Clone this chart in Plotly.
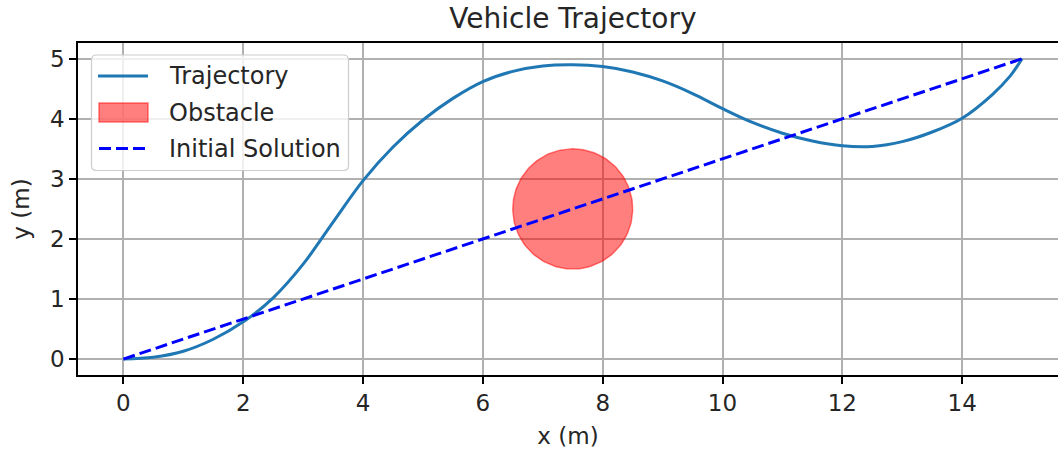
import numpy as np
import plotly.graph_objects as go

# Trajectory
traj_x = [0, 0.5, 1, 1.5, 2, 2.5, 3, 3.5, 4, 4.5, 5, 5.5, 6, 6.5, 7, 7.5,
          8, 8.5, 9, 9.5, 10, 10.5, 11, 11.5, 12, 12.5, 13, 13.5, 14, 14.5, 14.8, 15]
traj_y = [0, 0.03, 0.13, 0.33, 0.62, 1.02, 1.58, 2.28, 2.97, 3.53, 3.98, 4.34,
          4.62, 4.79, 4.88, 4.9, 4.87, 4.78, 4.63, 4.42, 4.17, 3.94, 3.76, 3.63,
          3.55, 3.54, 3.62, 3.78, 4.01, 4.40, 4.71, 5.0]

# Initial solution: straight line start -> goal
init_x = [0, 15]
init_y = [0, 5]

# Obstacle
obs_center = (7.5, 2.5)
obs_radius = 1.0

x_ticks = [0, 2, 4, 6, 8, 10, 12, 14]
y_ticks = [0, 1, 2, 3, 4, 5]

legend_labels = ["Trajectory", "Obstacle", "Initial Solution"]

FONT = "DejaVu Sans"
TXT = "#262626"
TRAJ_COLOR = "#1f77b4"
INIT_COLOR = "#0000ff"
OBS_FILL = "rgba(255,0,0,0.5)"
DASH = "12px,5px"

W, H = 1058, 454
ML, MR, MT, MB = 78, 0, 43, 79
PW, PH = W - ML - MR, H - MT - MB


def px(xp):
    return (xp - ML) / PW


def py(yp):
    return (H - MB - yp) / PH


theta = np.linspace(0, 2 * np.pi, 181)
circ_x = obs_center[0] + obs_radius * np.cos(theta)
circ_y = obs_center[1] + obs_radius * np.sin(theta)

fig = go.Figure()
fig.add_trace(go.Scatter(
    x=circ_x, y=circ_y, mode="lines", fill="toself",
    fillcolor=OBS_FILL, line=dict(color=OBS_FILL, width=1.5),
    name=legend_labels[1], showlegend=False, hoverinfo="skip"))
fig.add_trace(go.Scatter(
    x=traj_x, y=traj_y, mode="lines",
    line=dict(color=TRAJ_COLOR, width=3, shape="spline", smoothing=1.0),
    name=legend_labels[0], showlegend=False))
fig.add_trace(go.Scatter(
    x=init_x, y=init_y, mode="lines", line=dict(color=INIT_COLOR, width=3, dash=DASH),
    name=legend_labels[2], showlegend=False))

# ---- legend box (matplotlib style) ----
bx0, bx1, by0, by1, r = 91.5, 348.5, 55, 170.5, 5
path = (f"M {px(bx0 + r)},{py(by0)} L {px(bx1 - r)},{py(by0)} "
        f"Q {px(bx1)},{py(by0)} {px(bx1)},{py(by0 + r)} "
        f"L {px(bx1)},{py(by1 - r)} Q {px(bx1)},{py(by1)} {px(bx1 - r)},{py(by1)} "
        f"L {px(bx0 + r)},{py(by1)} Q {px(bx0)},{py(by1)} {px(bx0)},{py(by1 - r)} "
        f"L {px(bx0)},{py(by0 + r)} Q {px(bx0)},{py(by0)} {px(bx0 + r)},{py(by0)} Z")
shapes = [dict(type="path", xref="paper", yref="paper", path=path,
               fillcolor="rgba(255,255,255,0.8)", line=dict(color="#cccccc", width=1.2),
               layer="above")]
rows = [76, 112.5, 148.5]
hx0, hx1 = 98, 148
shapes.append(dict(type="line", xref="paper", yref="paper",
                   x0=px(hx0), x1=px(hx1), y0=py(rows[0]), y1=py(rows[0]),
                   line=dict(color=TRAJ_COLOR, width=3), layer="above"))
shapes.append(dict(type="rect", xref="paper", yref="paper",
                   x0=px(hx0 + 1), x1=px(hx1), y0=py(rows[1] - 9.5), y1=py(rows[1] + 9.5),
                   fillcolor=OBS_FILL, line=dict(color=OBS_FILL, width=1.5), layer="above"))
shapes.append(dict(type="line", xref="paper", yref="paper",
                   x0=px(hx0 + 1), x1=px(hx1), y0=py(rows[2]), y1=py(rows[2]),
                   line=dict(color=INIT_COLOR, width=3, dash=DASH), layer="above"))
annotations = [dict(xref="paper", yref="paper", x=px(167), y=py(yr), text=lab,
                    showarrow=False, xanchor="left", yanchor="middle",
                    font=dict(family=FONT, size=24, color=TXT))
               for lab, yr in zip(legend_labels, rows)]

fig.update_layout(
    width=W, height=H,
    margin=dict(l=ML, r=MR, t=MT, b=MB),
    paper_bgcolor="white", plot_bgcolor="white",
    font=dict(family=FONT, size=23, color=TXT),
    title=dict(text="Vehicle Trajectory", font=dict(family=FONT, size=28, color=TXT),
               xref="paper", x=0.505, xanchor="center",
               yref="container", y=1 - 18 / H, yanchor="middle"),
    showlegend=False,
    shapes=shapes,
    annotations=annotations,
)
fig.update_xaxes(
    range=[-0.758, 15.6], tickvals=x_ticks, ticktext=[str(v) for v in x_ticks],
    showgrid=True, gridcolor="#b0b0b0", gridwidth=1.5, zeroline=False,
    showline=True, linecolor="black", linewidth=1.5, mirror=True,
    ticks="outside", ticklen=7, tickwidth=1.5, tickcolor="black",
    tickfont=dict(family=FONT, size=23, color=TXT),
    title=dict(text="x (m)", font=dict(family=FONT, size=23, color=TXT), standoff=13),
)
fig.update_yaxes(
    range=[-0.265, 5.262], tickvals=y_ticks, ticktext=[str(v) for v in y_ticks],
    showgrid=True, gridcolor="#b0b0b0", gridwidth=1.5, zeroline=False,
    showline=True, linecolor="black", linewidth=1.5, mirror=False,
    ticks="outside", ticklen=7, tickwidth=1.5, tickcolor="black",
    tickfont=dict(family=FONT, size=23, color=TXT),
    title=dict(text="y (m)", font=dict(family=FONT, size=23, color=TXT), standoff=14),
)

fig.write_html("out.html", config={"displayModeBar": False},
               post_script="document.body.style.margin='0px';")
